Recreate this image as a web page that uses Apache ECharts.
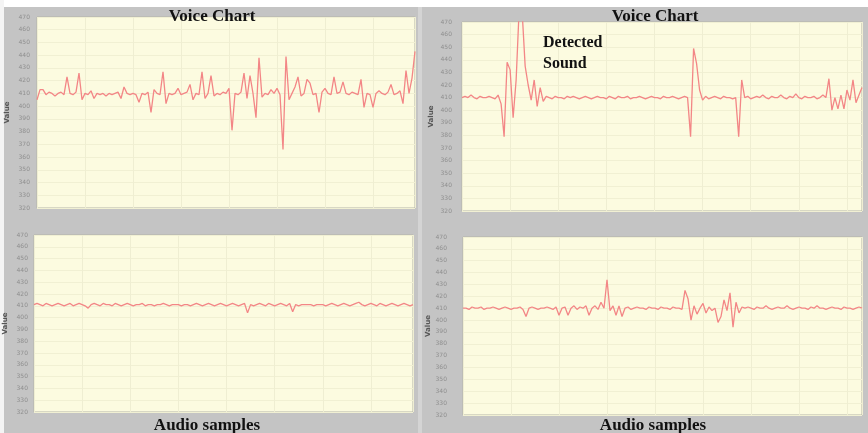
<!DOCTYPE html>
<html>
<head>
<meta charset="utf-8">
<script src="https://cdn.jsdelivr.net/npm/echarts@6/dist/echarts.min.js"></script>
<style>html,body{margin:0;padding:0;background:#c4c4c4}#c{width:868px;height:433px}</style>
</head>
<body>
<div id="c"></div>
<script>
// Y tick range shared by all panels
const yMin = 320, yMax = 470, yStep = 10;
const titles = ['Voice Chart', 'Voice Chart', 'Audio samples', 'Audio samples'];
const annotation = ['Detected', 'Sound'];

// Top-left: Voice Chart (before)
const voiceLeft = [405,413,413,409,411,410,408,410,411,409,
423,410,409,411,426,405,410,409,412,406,
410,409,410,408,410,409,410,411,406,415,
410,409,410,409,403,410,409,411,395,413,
410,409,427,402,410,409,410,414,409,410,
411,417,405,410,409,427,406,410,424,408,
410,409,411,410,414,381,410,409,411,426,
406,424,410,391,438,407,410,409,413,410,
414,409,366,439,405,410,415,423,408,410,
421,418,409,410,395,411,414,410,409,423,
410,411,419,410,409,411,410,409,421,399,
410,409,399,410,412,410,409,411,417,409,
410,412,402,428,410,422,443];

// Bottom-left: Audio samples (before)
const audioLeft = [411,412,411,410,412,411,410,411,412,411,
410,411,412,410,411,412,411,410,408,411,
412,411,410,412,411,411,410,412,411,410,
411,412,411,410,411,411,412,410,411,411,
410,411,411,412,411,410,411,411,411,410,
411,411,410,411,412,411,410,411,412,411,
410,411,412,411,410,411,412,411,410,411,
412,404,411,410,411,412,411,410,412,411,
410,411,412,411,410,412,405,411,410,411,
411,411,411,410,411,411,411,410,411,412,
411,410,411,412,411,410,411,412,413,411,
410,411,412,411,410,412,411,410,411,412,
411,410,411,412,411,410,411];

// Top-right: Voice Chart (detected sound)
const voiceRight = [410,411,410,412,410,409,411,410,410,411,
410,409,412,405,379,438,432,394,424,480,
478,435,420,408,424,403,418,407,411,410,
409,411,410,410,409,411,410,411,410,409,
410,411,410,409,410,411,410,410,409,411,
410,409,411,410,410,411,409,410,410,411,
410,409,410,411,410,410,409,411,410,410,
411,410,409,410,411,410,379,449,437,416,
408,411,409,410,411,410,409,411,410,410,
409,410,379,424,410,411,409,410,411,410,
412,410,409,411,410,410,412,410,409,411,
410,413,410,409,411,410,410,411,409,410,
412,410,425,400,410,401,412,401,416,408,
424,406,412,418];

// Bottom-right: Audio samples (detected sound)
const audioRight = [410,410,409,411,410,410,411,409,410,410,
411,410,409,410,411,410,409,410,410,411,
409,403,410,411,410,409,410,410,411,410,
409,411,404,410,411,404,410,412,409,411,
410,412,404,410,412,409,415,410,434,408,
412,404,412,403,410,411,409,410,411,410,
410,409,411,410,410,409,411,410,410,409,
411,410,410,409,425,418,400,412,405,410,
414,406,411,408,410,398,403,417,408,423,
394,415,406,411,410,411,410,409,411,410,
410,412,410,409,410,411,410,410,412,410,
409,410,411,410,410,409,411,410,412,410,
410,409,410,411,410,410,409,411,410,410,
409,410,411,410];

const panels = [
  {data: voiceLeft,  grid: {left: 37,  top: 17,  width: 378, height: 191}, labelMargin: 7,  nameGap: 26},
  {data: voiceRight, grid: {left: 462, top: 22,  width: 400, height: 189}, labelMargin: 10, nameGap: 27},
  {data: audioLeft,  grid: {left: 34,  top: 235, width: 379, height: 177}, labelMargin: 6,  nameGap: 25},
  {data: audioRight, grid: {left: 463, top: 237, width: 399, height: 178}, labelMargin: 16, nameGap: 28}
];

const cream = '#fcfbe0';
const option = {
  backgroundColor: '#c4c4c4',
  animation: false,
  grid: panels.map(p => Object.assign({show: true, backgroundColor: cream, borderColor: '#b4b4a8', borderWidth: 1}, p.grid)),
  xAxis: panels.map((p, i) => ({
    type: 'value', gridIndex: i, min: 0, max: p.data.length - 1, interval: 16,
    axisLabel: {show: false}, axisTick: {show: false}, axisLine: {show: false},
    splitLine: {show: true, lineStyle: {color: '#efeed2', width: 1}}
  })),
  yAxis: panels.map((p, i) => ({
    type: 'value', gridIndex: i, min: yMin, max: yMax, interval: yStep,
    name: 'Value', nameLocation: 'middle', nameGap: p.nameGap, nameRotate: 90,
    nameTextStyle: {fontSize: 7, color: '#555', fontWeight: 'bold', fontFamily: 'DejaVu Sans'},
    axisLabel: {fontSize: 6, color: '#8f8f8f', margin: p.labelMargin, fontFamily: 'DejaVu Sans'},
    axisTick: {show: false}, axisLine: {show: false},
    splitLine: {show: true, lineStyle: {color: '#f1f0d3', width: 1}}
  })),
  series: panels.map((p, i) => ({
    type: 'line', xAxisIndex: i, yAxisIndex: i, clip: true,
    data: p.data.map((v, k) => [k, v]),
    showSymbol: false, symbol: 'none',
    lineStyle: {color: '#f38686', width: 1.3},
    emphasis: {disabled: true}
  })),
  graphic: [
    {type: 'rect', shape: {x: 0, y: 0, width: 868, height: 7}, style: {fill: '#ffffff'}, z: 0},
    {type: 'rect', shape: {x: 0, y: 0, width: 4, height: 433}, style: {fill: '#f4f4f4'}, z: 0},
    {type: 'rect', shape: {x: 418, y: 7, width: 4, height: 426}, style: {fill: '#d4d4d4'}, z: 0},
    {type: 'text', z: 10, style: {text: titles[0], x: 212, y: 8, textAlign: 'center', textVerticalAlign: 'top', font: 'bold 17px "Liberation Serif", serif', fill: '#111'}},
    {type: 'text', z: 10, style: {text: titles[1], x: 655, y: 8, textAlign: 'center', textVerticalAlign: 'top', font: 'bold 17px "Liberation Serif", serif', fill: '#111'}},
    {type: 'text', z: 10, style: {text: titles[2], x: 207, y: 417, textAlign: 'center', textVerticalAlign: 'top', font: 'bold 17px "Liberation Serif", serif', fill: '#111'}},
    {type: 'text', z: 10, style: {text: titles[3], x: 653, y: 417, textAlign: 'center', textVerticalAlign: 'top', font: 'bold 17px "Liberation Serif", serif', fill: '#111'}},
    {type: 'text', z: 10, style: {text: annotation[0], x: 543, y: 35, textAlign: 'left', textVerticalAlign: 'top', font: 'bold 16px "Liberation Serif", serif', fill: '#111'}},
    {type: 'text', z: 10, style: {text: annotation[1], x: 543, y: 56, textAlign: 'left', textVerticalAlign: 'top', font: 'bold 16px "Liberation Serif", serif', fill: '#111'}}
  ]
};
echarts.init(document.getElementById('c')).setOption(option);
</script>
</body>
</html>
